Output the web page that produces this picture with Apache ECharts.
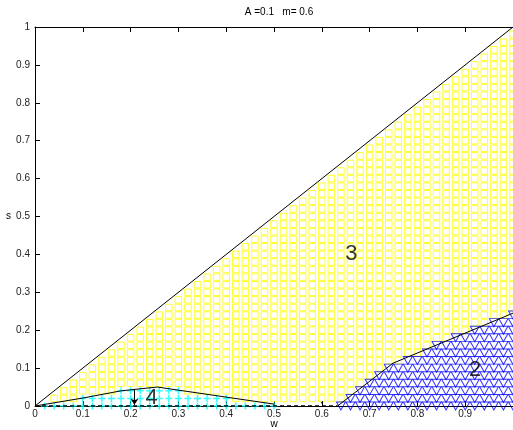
<!DOCTYPE html>
<html>
<head>
<meta charset="utf-8">
<script src="https://cdn.jsdelivr.net/npm/echarts@6/dist/echarts.min.js"></script>
<style>
  html, body { margin: 0; padding: 0; background: #fff; }
  #main { width: 513px; height: 430px; }
</style>
</head>
<body>
<div id="main"></div>
<script>
// grid of sample points (w, s), step
var gridStep = 0.02;
var gridCount = 50;

// boundary curves
var diagonal = [[0, 0], [1, 1]];
var region4Edge = [[0, 0], [0.1, 0.021], [0.18, 0.04], [0.256, 0.05], [0.5, 0.005]];
var region2Edge = [[0.633, 0], [0.749, 0.113], [1.0, 0.245]];
var baseline = [[0, 0], [0.633, 0]];
var region4End = 0.5;
var region2Start = 0.64;

// arrows [from, to]
var bigArrows = [
  [[0.208, 0.044], [0.208, 0.003]]
];
var smallArrows = [
  [[0.6, 0.013], [0.6, 0.006]]
];

// region labels
var regionLabels = [
  { name: '3', value: [0.662, 0.40] },
  { name: '2', value: [0.921, 0.095] },
  { name: '4', value: [0.244, 0.021] }
];

function edgeAt(edge, w) {
  for (var k = 0; k < edge.length - 1; k++) {
    var a = edge[k], b = edge[k + 1];
    if (w >= a[0] && w <= b[0]) {
      return a[1] + (b[1] - a[1]) * (w - a[0]) / (b[0] - a[0]);
    }
  }
  return -1;
}

var squares = [], triangles = [], pluses = [];
for (var i = 0; i <= gridCount; i++) {
  for (var j = 0; j < i; j++) {
    var w = +(i * gridStep).toFixed(2);
    var s = +(j * gridStep).toFixed(2);
    if (w <= region4End + 1e-9 && s <= edgeAt(region4Edge, w) + 1e-9) {
      pluses.push([w, s]);
    } else if (w >= region2Start - 1e-9 && s <= edgeAt(region2Edge, w) + 1e-9) {
      triangles.push([w, s]);
    } else if (j > 0) {
      squares.push([w, s]);
    }
  }
}

var chartDom = document.getElementById('main');
var myChart = echarts.init(chartDom);
var font = 'Liberation Sans, Arial, sans-serif';

var option = {
  animation: false,
  title: {
    text: 'A =0.1   m= 0.6',
    left: 274,
    top: 2,
    textAlign: 'center',
    textStyle: { fontSize: 10, fontWeight: 'normal', color: '#000', fontFamily: font }
  },
  grid: { left: 35, top: 27, width: 478, height: 379, outerBoundsMode: 'none', containLabel: false },
  xAxis: [
    {
      type: 'value', min: 0, max: 1, interval: 0.1,
      name: 'w', nameLocation: 'middle', nameGap: 13, nameMoveOverlap: false,
      nameTextStyle: { fontSize: 10, color: '#000', fontFamily: font },
      axisLine: { lineStyle: { color: '#000', width: 1 } },
      axisTick: { inside: true, length: 5, lineStyle: { color: '#000' } },
      axisLabel: { fontSize: 10, color: '#222', margin: 3, fontFamily: font, showMaxLabel: false },
      splitLine: { show: false }
    },
    {
      type: 'value', min: 0, max: 1, interval: 0.1, position: 'top',
      axisLine: { lineStyle: { color: '#000', width: 1 } },
      axisTick: { inside: true, length: 5, lineStyle: { color: '#000' } },
      axisLabel: { show: false },
      splitLine: { show: false }
    }
  ],
  yAxis: [
    {
      type: 'value', min: 0, max: 1, interval: 0.1,
      name: 's', nameLocation: 'middle', nameGap: 24, nameRotate: 0, nameMoveOverlap: false,
      nameTextStyle: { fontSize: 10, color: '#000', fontFamily: font, padding: [0, 0, 12, 0] },
      axisLine: { lineStyle: { color: '#000', width: 1 } },
      axisTick: { inside: true, length: 5, lineStyle: { color: '#000' } },
      axisLabel: { fontSize: 10, color: '#222', margin: 5, fontFamily: font },
      splitLine: { show: false }
    }
  ],
  series: [
    {
      type: 'scatter', data: squares, symbol: 'rect', symbolSize: 6.5,
      itemStyle: { color: 'rgba(0,0,0,0)', borderColor: '#ffff00', borderWidth: 1 },
      z: 2
    },
    {
      type: 'scatter', data: triangles, symbol: 'path://M0,0 L10,0 L5,9 Z', symbolSize: [9, 8],
      itemStyle: { color: 'rgba(0,0,0,0)', borderColor: '#0000ff', borderWidth: 1 },
      z: 2
    },
    {
      type: 'scatter', data: pluses, symbol: 'path://M5,0 L5,10 M0,5 L10,5', symbolSize: 7,
      itemStyle: { color: 'rgba(0,0,0,0)', borderColor: '#00ffff', borderWidth: 1.5 },
      z: 2
    },
    {
      type: 'line', data: diagonal, showSymbol: false,
      lineStyle: { color: '#000', width: 1 }, z: 3
    },
    {
      type: 'line', data: region4Edge, showSymbol: false,
      lineStyle: { color: '#000', width: 1 }, z: 3
    },
    {
      type: 'line', data: region2Edge, showSymbol: false,
      lineStyle: { color: '#000', width: 1 }, z: 3
    },
    {
      type: 'line', data: baseline, showSymbol: false,
      lineStyle: { color: '#000', width: 1.5, type: [4, 3] }, z: 3
    },
    {
      type: 'lines', coordinateSystem: 'cartesian2d',
      data: bigArrows.map(function (a) { return { coords: a }; }),
      symbol: ['none', 'arrow'], symbolSize: 6,
      lineStyle: { color: '#000', width: 1, opacity: 1 }, z: 4
    },
    {
      type: 'lines', coordinateSystem: 'cartesian2d',
      data: smallArrows.map(function (a) { return { coords: a }; }),
      symbol: ['none', 'arrow'], symbolSize: 2,
      lineStyle: { color: '#000', width: 1, opacity: 1 }, z: 4
    },
    {
      type: 'scatter', data: regionLabels, symbolSize: 0,
      label: {
        show: true, position: 'inside', formatter: '{b}',
        fontSize: 22, color: '#000', fontFamily: font
      },
      z: 5
    }
  ]
};

option && myChart.setOption(option);

window.addEventListener('resize', function () {
  myChart.resize();
});
</script>
</body>
</html>
